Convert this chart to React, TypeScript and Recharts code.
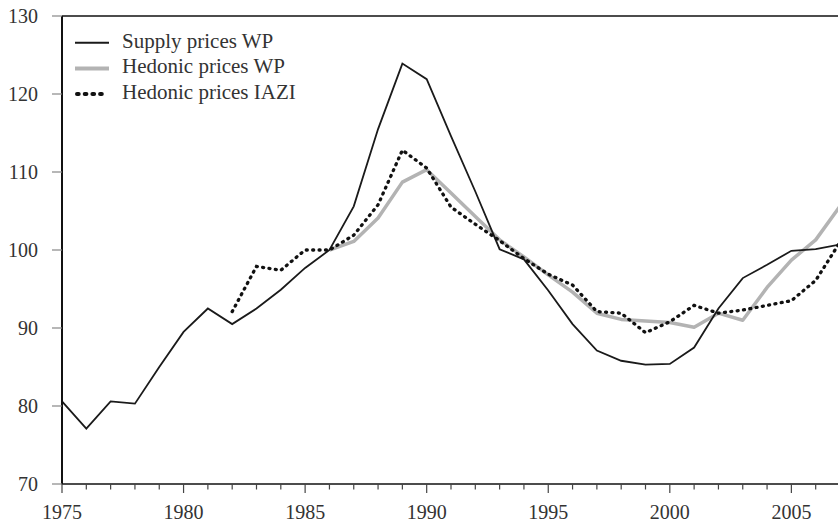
import { LineChart, Line, XAxis, YAxis, ReferenceLine } from 'recharts'

const years = [
  1975, 1976, 1977, 1978, 1979, 1980, 1981, 1982, 1983, 1984, 1985, 1986, 1987,
  1988, 1989, 1990, 1991, 1992, 1993, 1994, 1995, 1996, 1997, 1998, 1999, 2000,
  2001, 2002, 2003, 2004, 2005, 2006, 2007,
]

const supplyWP = [
  80.6, 77.1, 80.6, 80.3, 85.0, 89.5, 92.5, 90.5, 92.5, 94.9, 97.7, 100.0, 105.6,
  115.5, 123.9, 121.9, 114.6, 107.5, 100.1, 98.8, 94.8, 90.5, 87.1, 85.8, 85.3,
  85.4, 87.5, 92.5, 96.4, 98.1, 99.9, 100.1, 100.7,
]

const hedonicWP = [
  null, null, null, null, null, null, null, null, null, null, null, 100.0, 101.1,
  104.1, 108.7, 110.3, 107.3, 104.3, 101.3, 99.1, 96.8, 94.6, 91.9, 91.1, 90.9,
  90.7, 90.1, 91.9, 91.0, 95.2, 98.7, 101.3, 105.6,
]

const hedonicIAZI = [
  null, null, null, null, null, null, null, 92.1, 97.9, 97.4, 100.0, 100.0, 101.9,
  105.8, 112.8, 110.5, 105.5, 103.3, 101.2, 98.9, 96.9, 95.5, 92.1, 91.9, 89.4,
  90.8, 92.9, 91.9, 92.3, 92.9, 93.5, 96.1, 101.0,
]

const yTicks = [70, 80, 90, 100, 110, 120, 130]

const data = years.map((year, i) => ({
  year,
  supply: supplyWP[i],
  hedonic: hedonicWP[i],
  iazi: hedonicIAZI[i],
}))

const FONT = '"Liberation Serif", "DejaVu Serif", serif'
const TEXT = '#333'

// year ticks: every year gets a mark, every fifth a longer one and a label
const YearTick = (props: any) => {
  const { x, y, payload } = props
  const major = payload.value % 5 === 0
  return (
    <g>
      <line x1={x} y1={y} x2={x} y2={y + (major ? 9 : 5.5)} stroke="#444" strokeWidth={1.2} />
      {major && (
        <text x={x} y={y + 35} textAnchor="middle" fontSize={20} fontFamily={FONT} fill={TEXT}>
          {payload.value}
        </text>
      )}
    </g>
  )
}

const legendRows = [
  { label: 'Supply prices WP', stroke: '#1a1a1a', width: 2, dash: undefined },
  { label: 'Hedonic prices WP', stroke: '#b3b3b3', width: 4, dash: undefined },
  { label: 'Hedonic prices IAZI', stroke: '#111', width: 4, dash: '1.7 6' },
]

// legend drawn on top of the chart, inside the plot's upper left corner
const LegendBox = () => (
  <svg
    width={320}
    height={110}
    style={{ position: 'absolute', left: 0, top: 0, pointerEvents: 'none' }}
  >
    {legendRows.map((r, i) => {
      const cy = 42.7 + i * 25.7
      return (
        <g key={r.label}>
          <line
            x1={r.dash ? 77 : 75}
            x2={r.dash ? 106 : 109}
            y1={cy}
            y2={cy}
            stroke={r.stroke}
            strokeWidth={r.width}
            strokeDasharray={r.dash}
            strokeLinecap={r.dash ? 'round' : 'butt'}
          />
          <text x={122} y={cy + 5} fontSize={21} fontFamily={FONT} fill={TEXT}>
            {r.label}
          </text>
        </g>
      )
    })}
  </svg>
)

export default function App() {
  return (
    <div
      style={{
        position: 'absolute',
        left: 0,
        top: 0,
        width: 838,
        height: 527,
        overflow: 'hidden',
        background: '#fff',
      }}
    >
      <LineChart
        width={850}
        height={527}
        data={data}
        margin={{ top: 16, right: 10, left: 0, bottom: 0 }}
      >
        <XAxis
          dataKey="year"
          type="number"
          domain={[1975, 2007]}
          ticks={years}
          interval={0}
          tickSize={0}
          tickMargin={0}
          tick={<YearTick />}
          axisLine={{ stroke: '#111', strokeWidth: 1.6 }}
          height={43}
        />
        <YAxis
          type="number"
          domain={[70, 130]}
          ticks={yTicks}
          interval={0}
          width={62}
          tickSize={10}
          tickMargin={14}
          tickLine={{ stroke: '#888', strokeWidth: 1.2 }}
          axisLine={{ stroke: '#111', strokeWidth: 2 }}
          tick={{ fontSize: 20, fontFamily: FONT, fill: TEXT }}
        />
        <ReferenceLine y={130} stroke="#111" strokeWidth={1.6} />
        <ReferenceLine x={2007} stroke="#111" strokeWidth={1.6} />
        <Line
          dataKey="hedonic"
          stroke="#b3b3b3"
          strokeWidth={3.5}
          dot={false}
          isAnimationActive={false}
          strokeLinejoin="round"
        />
        <Line
          dataKey="supply"
          stroke="#1a1a1a"
          strokeWidth={1.8}
          dot={false}
          isAnimationActive={false}
        />
        <Line
          dataKey="iazi"
          stroke="#111"
          strokeWidth={3.3}
          strokeDasharray="1 5.4"
          strokeLinecap="round"
          dot={false}
          isAnimationActive={false}
        />
      </LineChart>
      <LegendBox />
    </div>
  )
}
